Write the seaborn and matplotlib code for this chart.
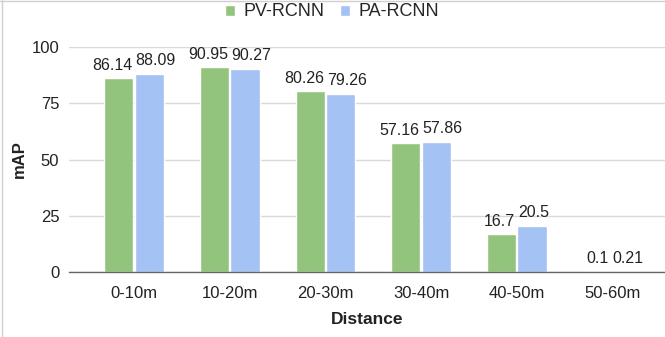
import matplotlib
matplotlib.use("Agg")
import matplotlib.pyplot as plt
import seaborn as sns
import pandas as pd
from matplotlib.lines import Line2D

categories = ["0-10m", "10-20m", "20-30m", "30-40m", "40-50m", "50-60m"]
pv_rcnn = [86.14, 90.95, 80.26, 57.16, 16.7, 0.1]
pa_rcnn = [88.09, 90.27, 79.26, 57.86, 20.5, 0.21]
series_names = ["PV-RCNN", "PA-RCNN"]
y_ticks = [0, 25, 50, 75, 100]

df = pd.DataFrame({
    "Distance": categories * 2,
    "mAP": pv_rcnn + pa_rcnn,
    "Model": [series_names[0]] * len(categories) + [series_names[1]] * len(categories),
})

sns.set_theme(style="white")
plt.rcParams["font.family"] = ["Liberation Sans", "DejaVu Sans"]

W, H = 665, 337
fig = plt.figure(figsize=(W / 100, H / 100), dpi=100)
ax = fig.add_axes([69 / W, (H - 272) / H, (665 - 69) / W, (272 - 47) / H])

palette = {"PV-RCNN": "#93c47d", "PA-RCNN": "#a4c2f4"}
sns.barplot(data=df, x="Distance", y="mAP", hue="Model", palette=palette,
            width=0.64, gap=0.05, saturation=1, ax=ax, zorder=3)

ax.set_ylim(0, 100)
ax.set_xlim(-0.68, 5.55)
ax.set_yticks(y_ticks)
ax.yaxis.grid(True, color="#d9d9d9", linewidth=1, zorder=0)
ax.set_axisbelow(True)
for side in ["top", "right", "left"]:
    ax.spines[side].set_visible(False)
ax.spines["bottom"].set_color("#666666")
ax.spines["bottom"].set_linewidth(1)
ax.spines["bottom"].set_zorder(4)
ax.tick_params(axis="both", length=0, labelsize=12, colors="#222222")
ax.tick_params(axis="x", pad=10)
ax.tick_params(axis="y", pad=7)

ax.set_xlabel("Distance", fontsize=12.5, fontweight="bold", color="#222222", labelpad=8)
ax.set_ylabel("mAP", fontsize=12, fontweight="bold", color="#222222", labelpad=3)

# value labels above the bars
label_sets = []
for container in ax.containers:
    texts = ax.bar_label(container, labels=[f"{v:g}" for v in container.datavalues],
                         padding=4, fontsize=11.5, color="#222222", clip_on=False)
    label_sets.append(texts)

# push apart neighbouring labels within a group when they collide
fig.canvas.draw()
renderer = fig.canvas.get_renderer()
for left, right in zip(*label_sets):
    bl = left.get_window_extent(renderer)
    br = right.get_window_extent(renderer)
    vertical_overlap = min(bl.y1, br.y1) - max(bl.y0, br.y0) > 0
    overlap = bl.x1 - br.x0 + 3
    if vertical_overlap and overlap > 0:
        xl, yl = left.xyann
        xr, yr = right.xyann
        left.xyann = (xl - overlap / 2 / 1.389, yl)
        right.xyann = (xr + overlap / 2 / 1.389, yr)

sns.move_legend(ax, "center", bbox_to_anchor=(332 / W, 1 - 12 / H),
                bbox_transform=fig.transFigure, ncol=2, frameon=False, title=None,
                fontsize=13, handlelength=0.55, handleheight=0.55,
                handletextpad=0.45, columnspacing=0.9)

# thin frame around the figure
fig.add_artist(Line2D([2 / W, 2 / W], [0, 1], transform=fig.transFigure,
                      color="#d0d0d0", linewidth=1))
fig.add_artist(Line2D([0, 1], [1 - 0.5 / H, 1 - 0.5 / H], transform=fig.transFigure,
                      color="#d0d0d0", linewidth=1))

fig.savefig("out.png", dpi=100, facecolor="white")
